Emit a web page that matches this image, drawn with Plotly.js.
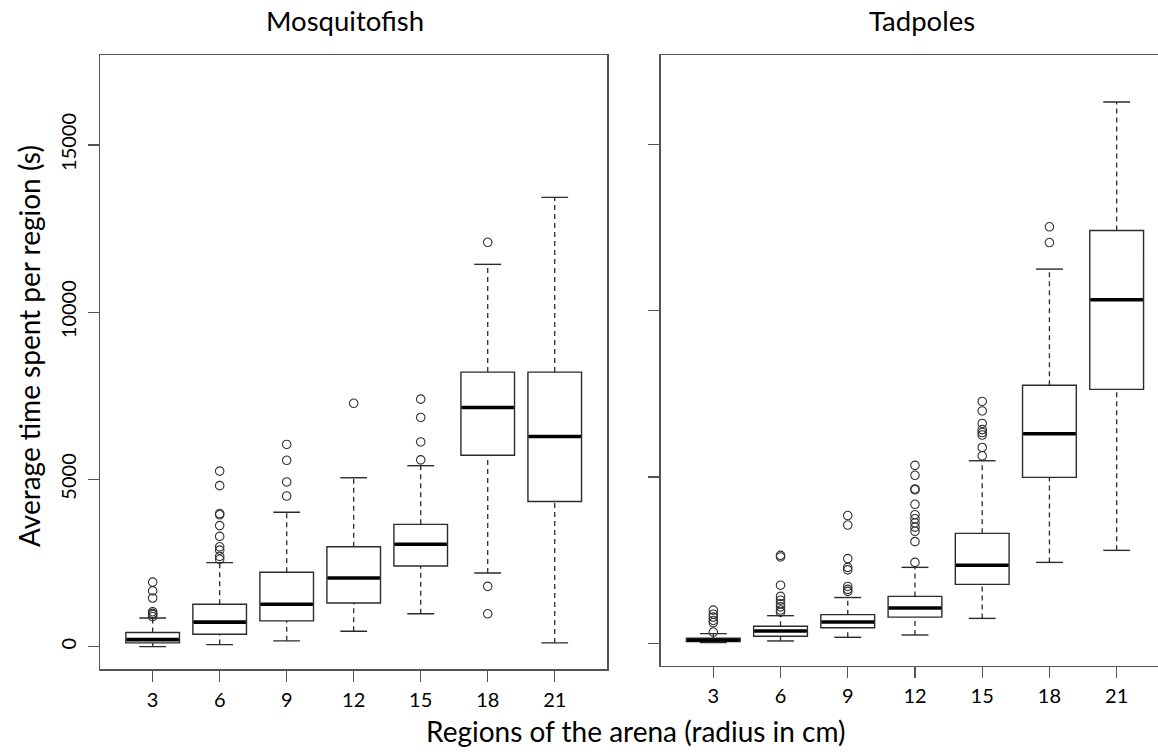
<!DOCTYPE html>
<html>
<head>
<meta charset="utf-8">
<script src="https://cdn.plot.ly/plotly-3.0.1.min.js"></script>
<style>html,body{margin:0;padding:0;background:#fff;}#chart{width:1158px;height:755px;}</style>
</head>
<body>
<div id="chart"></div>
<script>
// ---- data ----
const categories = ["3", "6", "9", "12", "15", "18", "21"];
const positions = [1, 2, 3, 4, 5, 6, 7];

// Mosquitofish
const fishLower = [0, 62, 174, 460, 982, 2201, 112];
const fishQ1 = [112, 373, 771, 1306, 2413, 5721, 4341];
const fishMedian = [211, 734, 1269, 2052, 3060, 7152, 6281];
const fishQ3 = [423, 1269, 2226, 2985, 3657, 8209, 8209];
const fishUpper = [858, 2512, 4017, 5050, 5410, 11430, 13433];
const fishOutliers = [
  [1928, 1667, 1455, 1045, 995, 958, 896],
  [5249, 4813, 3980, 3943, 3619, 3296, 2985, 2886, 2699, 2612],
  [6045, 5572, 4925, 4502],
  [7276],
  [7400, 6853, 6120, 5585],
  [12090, 1803, 983],
  []
];

// Tadpoles
const tadLower = [20, 70, 180, 249, 748, 2431, 2793];
const tadQ1 = [50, 210, 465, 786, 1771, 4988, 7631];
const tadMedian = [100, 370, 640, 1060, 2344, 6297, 10324];
const tadQ3 = [155, 510, 860, 1409, 3304, 7756, 12406];
const tadUpper = [290, 830, 1375, 2282, 5486, 11247, 16272];
const tadOutliers = [
  [998, 873, 786, 686, 623, 337],
  [2643, 2594, 1746, 1409, 1295, 1185, 1095, 1000, 935],
  [3840, 3554, 2544, 2282, 2207, 1708, 1621, 1559],
  [5349, 5050, 4638, 4613, 4177, 3865, 3741, 3616, 3491, 3367, 3055, 2431],
  [7269, 6983, 6608, 6421, 6334, 6259, 5885, 5636],
  [12519, 12045],
  []
];

const yTicks = [0, 5000, 10000, 15000];
const yTickLabels = ["0", "5000", "10000", "15000"];
const panelTitles = ["Mosquitofish", "Tadpoles"];
const xTitle = "Regions of the arena (radius in cm)";
const yTitle = "Average time spent per region (s)";

// ---- styling ----
const FONT = "Lato, 'Open Sans', sans-serif";
const BOXW = 0.8, CAPW = 0.4;
const lineCol = "#2b2b2b";
const frameCol = "#555555";

function panelTraces(lo, q1, med, q3, hi, outs, xa, ya) {
  const tr = [];
  tr.push({
    type: "box", x: positions, q1: q1, median: med, q3: q3,
    lowerfence: q1, upperfence: q3, width: BOXW,
    fillcolor: "#ffffff", line: {color: lineCol, width: 1.4},
    whiskerwidth: 0, boxpoints: false, hoverinfo: "skip",
    xaxis: xa, yaxis: ya, showlegend: false
  });
  // whiskers (dashed)
  const wx = [], wy = [];
  positions.forEach((p, i) => {
    wx.push(p, p, null, p, p, null);
    wy.push(q3[i], hi[i], null, lo[i], q1[i], null);
  });
  tr.push({type: "scatter", mode: "lines", x: wx, y: wy, xaxis: xa, yaxis: ya,
    line: {color: lineCol, width: 1.3, dash: "5px,4px"}, hoverinfo: "skip", showlegend: false});
  // caps
  const cx = [], cy = [];
  positions.forEach((p, i) => {
    cx.push(p - CAPW / 2, p + CAPW / 2, null, p - CAPW / 2, p + CAPW / 2, null);
    cy.push(hi[i], hi[i], null, lo[i], lo[i], null);
  });
  tr.push({type: "scatter", mode: "lines", x: cx, y: cy, xaxis: xa, yaxis: ya,
    line: {color: lineCol, width: 1.4}, hoverinfo: "skip", showlegend: false});
  // medians (thick)
  const mx = [], my = [];
  positions.forEach((p, i) => {
    mx.push(p - BOXW / 2 + 0.01, p + BOXW / 2 - 0.01, null);
    my.push(med[i], med[i], null);
  });
  tr.push({type: "scatter", mode: "lines", x: mx, y: my, xaxis: xa, yaxis: ya,
    line: {color: "#000000", width: 3.6}, hoverinfo: "skip", showlegend: false});
  // outliers
  const ox = [], oy = [];
  outs.forEach((arr, i) => arr.forEach(v => { ox.push(positions[i]); oy.push(v); }));
  tr.push({type: "scatter", mode: "markers", x: ox, y: oy, xaxis: xa, yaxis: ya,
    marker: {symbol: "circle-open", size: 8.5, color: "#333333", line: {width: 1.1, color: "#333333"}},
    hoverinfo: "skip", showlegend: false});
  return tr;
}

const data = [].concat(
  panelTraces(fishLower, fishQ1, fishMedian, fishQ3, fishUpper, fishOutliers, "x", "y"),
  panelTraces(tadLower, tadQ1, tadMedian, tadQ3, tadUpper, tadOutliers, "x2", "y2")
);

const W = 1158, H = 755;
const tickFont = {family: FONT, size: 20, color: "#000"};
const xCommon = {
  tickmode: "array", tickvals: positions, ticktext: categories,
  ticks: "outside", ticklen: 11, tickwidth: 1.3, tickcolor: frameCol,
  showline: true, linecolor: frameCol, linewidth: 1.5, mirror: true,
  showgrid: false, zeroline: false, tickfont: tickFont, fixedrange: true,
  ticklabelstandoff: 1
};
const yCommon = {
  range: [-680, 17680], tickmode: "array", tickvals: yTicks, ticktext: yTickLabels,
  ticks: "outside", ticklen: 11, tickwidth: 1.3, tickcolor: frameCol,
  showline: true, linecolor: frameCol, linewidth: 1.5,
  showgrid: false, zeroline: false, tickfont: tickFont, tickangle: -90, fixedrange: true
};

const layout = {
  width: W, height: H,
  margin: {l: 0, r: 0, t: 0, b: 0},
  paper_bgcolor: "#ffffff", plot_bgcolor: "#ffffff",
  showlegend: false,
  font: {family: FONT, color: "#000"},
  xaxis: Object.assign({}, xCommon, {domain: [100.4 / W, 607 / W], range: [0.22, 7.78], anchor: "y"}),
  yaxis: Object.assign({}, yCommon, {domain: [1 - 669.4 / H, 1 - 55.3 / H], anchor: "x", mirror: true, ticklabelstandoff: 4}),
  xaxis2: Object.assign({}, xCommon, {domain: [660.8 / W, 1], range: [0.219, 7.615], anchor: "y2"}),
  yaxis2: Object.assign({}, yCommon, {domain: [1 - 665.9 / H, 1 - 55.1 / H], anchor: "x2", mirror: false, showticklabels: false}),
  annotations: [
    {text: panelTitles[0], xref: "paper", yref: "paper", x: 344.7 / W, y: 1 - 21 / H,
     xanchor: "center", yanchor: "middle", showarrow: false, font: {family: FONT, size: 27.5, color: "#000"}},
    {text: panelTitles[1], xref: "paper", yref: "paper", x: 922 / W, y: 1 - 21 / H,
     xanchor: "center", yanchor: "middle", showarrow: false, font: {family: FONT, size: 27.5, color: "#000"}},
    {text: xTitle, xref: "paper", yref: "paper", x: 636 / W, y: 1 - 731 / H,
     xanchor: "center", yanchor: "middle", showarrow: false, font: {family: FONT, size: 28, color: "#000"}},
    {text: yTitle, xref: "paper", yref: "paper", x: 29 / W, y: 1 - 346 / H,
     xanchor: "center", yanchor: "middle", textangle: -90, showarrow: false, font: {family: FONT, size: 28, color: "#000"}}
  ]
};

Plotly.newPlot("chart", data, layout, {displayModeBar: false, staticPlot: true});
</script>
</body>
</html>
